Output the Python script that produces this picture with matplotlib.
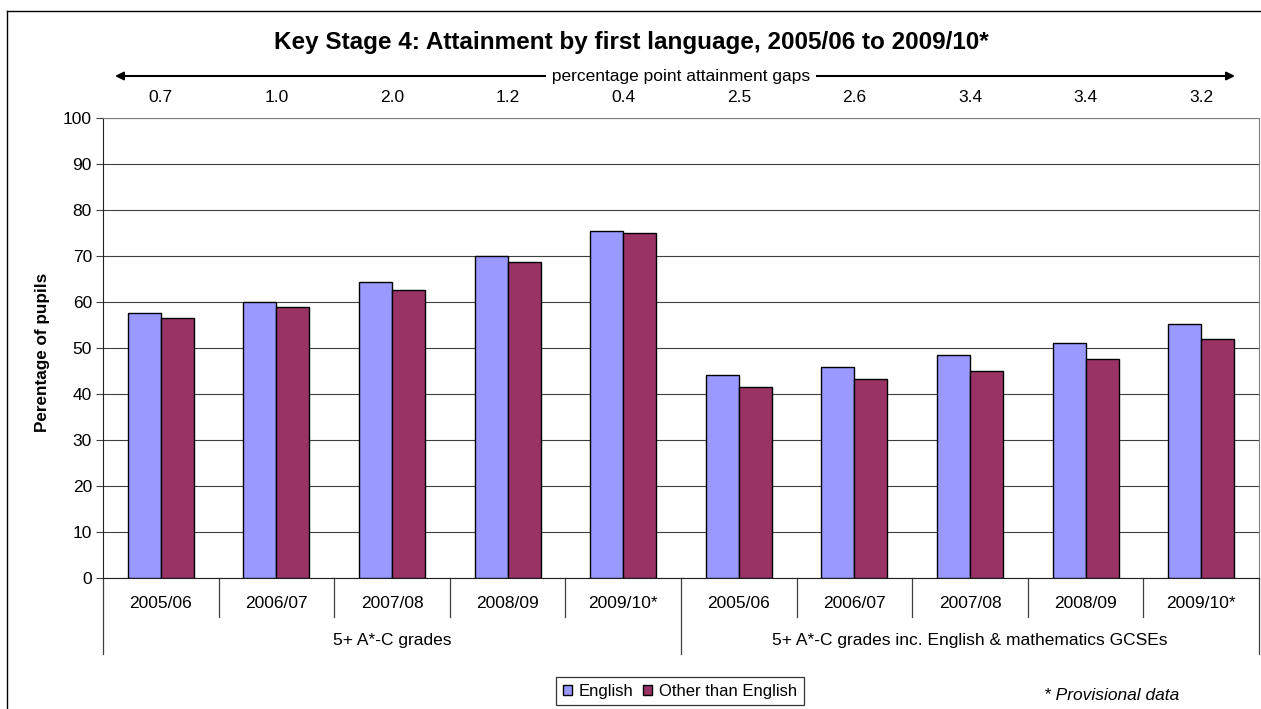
import numpy as np
import matplotlib
matplotlib.use("Agg")
import matplotlib.pyplot as plt
from matplotlib.patches import Patch
from matplotlib.lines import Line2D
import matplotlib.transforms as mtransforms

plt.rcParams['font.family'] = ['Liberation Sans', 'DejaVu Sans']

# ---------------- datos ---------------- #
years = ["2005/06", "2006/07", "2007/08", "2008/09", "2009/10*",
         "2005/06", "2006/07", "2007/08", "2008/09", "2009/10*"]
groups = ["5+ A*-C grades", "5+ A*-C grades inc. English & mathematics GCSEs"]
english = [57.5, 60.0, 64.4, 70.0, 75.4, 44.2, 45.8, 48.5, 51.0, 55.2]
other = [56.5, 59.0, 62.5, 68.7, 75.1, 41.6, 43.3, 45.1, 47.6, 52.0]
gaps = ["0.7", "1.0", "2.0", "1.2", "0.4", "2.5", "2.6", "3.4", "3.4", "3.2"]

col_eng = "#9999FF"
col_oth = "#993366"
fs = 12.5

W, H = 1261, 709
fig = plt.figure(figsize=(W / 100, H / 100), dpi=100)

# marco exterior del gráfico (solo visible arriba e izquierda)
fig.add_artist(Line2D([7 / W, 7 / W], [0, 1 - 11 / H], color="black", lw=1,
                      transform=fig.transFigure))
fig.add_artist(Line2D([7 / W, 1], [1 - 11 / H, 1 - 11 / H], color="black", lw=1,
                      transform=fig.transFigure))

x0, x1, ytop, ybot = 103, 1259, 118, 578
ax = fig.add_axes([x0 / W, (H - ybot) / H, (x1 - x0) / W, (ybot - ytop) / H])

x = np.arange(len(years))
bw = 1 / 3.5
ax.bar(x - bw / 2, english, bw, color=col_eng, edgecolor="black", lw=1, zorder=3)
ax.bar(x + bw / 2, other, bw, color=col_oth, edgecolor="black", lw=1, zorder=3)

ax.set_xlim(-0.5, len(years) - 0.5)
ax.set_ylim(0, 100)
ax.set_yticks(range(0, 101, 10))
ax.yaxis.grid(True, color="#404040", lw=0.8, zorder=0)
ax.tick_params(axis="y", direction="out", length=5, width=0.8, labelsize=fs,
               color="#404040", pad=3)

ax.set_xticks(x)
ax.set_xticklabels(years, fontsize=fs)
ax.tick_params(axis="x", length=0, pad=13)

for s in ["top", "right"]:
    ax.spines[s].set_color("#808080")
for s in ["left", "bottom"]:
    ax.spines[s].set_color("#202020")

# separadores de categorías bajo el eje
trans = mtransforms.blended_transform_factory(ax.transData, ax.transAxes)
h_axes = ybot - ytop
for b in np.arange(-0.5, len(years), 1.0):
    if b in (-0.5, 4.5, 9.5):
        y_end = -(654 - ybot) / h_axes
    else:
        y_end = -(617 - ybot) / h_axes
    ax.plot([b, b], [0, y_end], color="#404040", lw=0.9, transform=trans,
            clip_on=False)

ax.text(2, -(640 - ybot) / h_axes, groups[0], transform=trans, ha="center",
        va="center", fontsize=fs)
ax.text(7, -(640 - ybot) / h_axes, groups[1], transform=trans, ha="center",
        va="center", fontsize=fs)

# diferencias en puntos porcentuales
for xi, g in zip(x, gaps):
    ax.text(xi, 1 + (ytop - 98) / h_axes, g, transform=trans, ha="center",
            va="center", fontsize=fs)

ya = 1 + (ytop - 76) / h_axes
ax.annotate("", xy=((115 - x0) / (x1 - x0), ya), xytext=((1235 - x0) / (x1 - x0), ya),
            xycoords="axes fraction", textcoords="axes fraction",
            arrowprops=dict(arrowstyle="<|-|>", color="black", lw=1.5,
                            mutation_scale=12, shrinkA=0, shrinkB=0))
ax.text(0.5, ya, " percentage point attainment gaps ", transform=ax.transAxes,
        ha="center", va="center", fontsize=fs,
        bbox=dict(facecolor="white", edgecolor="none", pad=1))

fig.text(631 / W, 1 - 42 / H, "Key Stage 4: Attainment by first language, 2005/06 to 2009/10*",
         ha="center", va="center", fontsize=17.5, fontweight="bold")
fig.text(43 / W, 1 - 352 / H, "Perentage of pupils", rotation=90, ha="center",
         va="center", fontsize=12.3, fontweight="bold")

handles = [Patch(facecolor=col_eng, edgecolor="black", label="English"),
           Patch(facecolor=col_oth, edgecolor="black", label="Other than English")]
leg = fig.legend(handles=handles, loc="upper center", bbox_to_anchor=(680 / W, 1 - 677 / H),
                 ncol=2, fontsize=12, frameon=True, fancybox=False,
                 edgecolor="black", handlelength=0.55, handleheight=0.55,
                 handletextpad=0.4, columnspacing=0.6, borderpad=0.4,
                 borderaxespad=0)
leg.get_frame().set_linewidth(0.9)

fig.text(1112 / W, 1 - 695 / H, "* Provisional data", ha="center", va="center",
         fontsize=fs, style="italic")

fig.savefig("out.png", dpi=100)
